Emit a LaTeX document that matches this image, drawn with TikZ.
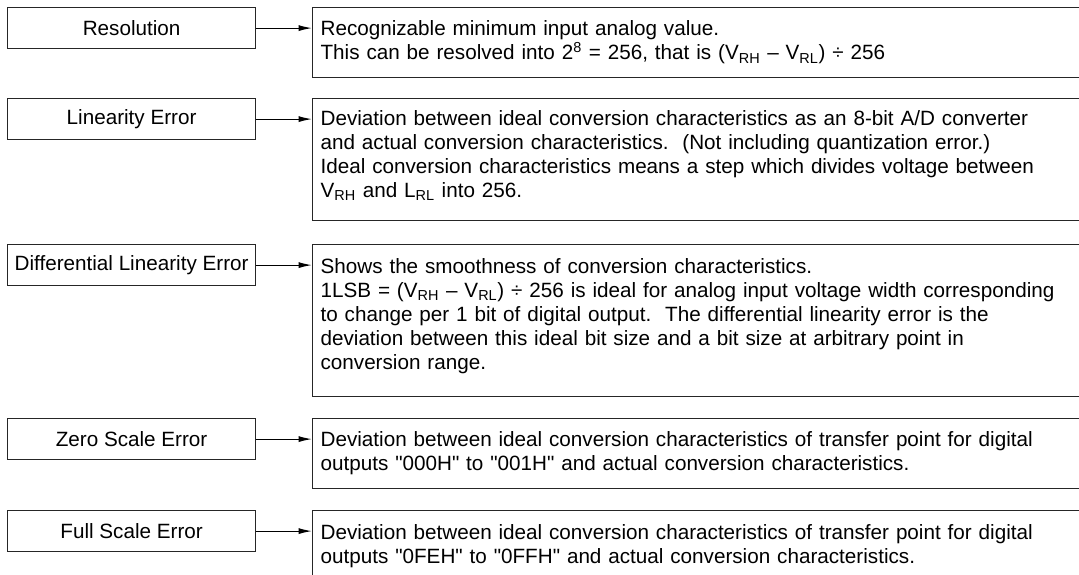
\documentclass[tikz,border=0pt]{standalone}
\usepackage{fontspec}
\setmainfont{Liberation Sans}
\usetikzlibrary{arrows.meta}

\begin{document}
\begin{tikzpicture}[x=0.75pt, y=-0.75pt, line width=0.9pt,
    term/.style={draw=black!85, anchor=north west, minimum width=186pt, minimum height=30.75pt,
        inner sep=0pt, font=\fontsize{15.5}{18}\selectfont},
    desc/.style={draw=black!85, anchor=north west, minimum width=600pt, text width=588pt,
        inner xsep=6pt, align=left, font=\fontsize{15.5}{18}\selectfont},
    link/.style={-{Latex[length=10pt,width=4.5pt]}}]
    \useasboundingbox (0,0) rectangle (1079,575);
    \clip (0,0) rectangle (1079,575);

    \node[term] (res) at (7,7) {Resolution};
    \node[term] (lin) at (7,98) {Linearity Error};
    \node[term] (dif) at (7,244) {Differential Linearity Error};
    \node[term] (zer) at (7,418) {Zero Scale Error};
    \node[term] (ful) at (7,510) {Full Scale Error};

    \node[desc, minimum height=52.5pt] (resd) at (312,7) {Recognizable minimum input analog value.\\
        This can be resolved into 2\textsuperscript{8} = 256, that is (V\textsubscript{RH} – V\textsubscript{RL}) ÷ 256};
    \node[desc, minimum height=91.5pt] (lind) at (312,98) {Deviation between ideal conversion characteristics as an 8-bit A/D converter\\
        and actual conversion characteristics.\ \ (Not including quantization error.)\\
        Ideal conversion characteristics means a step which divides voltage between\\
        V\textsubscript{RH} and L\textsubscript{RL} into 256.\rule[-9pt]{0pt}{1pt}};
    \node[desc, minimum height=114pt] (difd) at (312,244) {Shows the smoothness of conversion characteristics.\\
        1LSB = (V\textsubscript{RH} – V\textsubscript{RL}) ÷ 256 is ideal for analog input voltage width corresponding\\
        to change per 1 bit of digital output.\ \ The differential linearity error is the\\
        deviation between this ideal bit size and a bit size at arbitrary point in\\
        conversion range.\rule[-10pt]{0pt}{1pt}};
    \node[desc, minimum height=52.5pt] (zerd) at (312,418) {Deviation between ideal conversion characteristics of transfer point for digital\\
        outputs \textquotedbl 000H\textquotedbl{} to \textquotedbl 001H\textquotedbl{} and actual conversion characteristics.};
    \node[desc, minimum height=54pt] (fuld) at (312,510) {Deviation between ideal conversion characteristics of transfer point for digital\\
        outputs \textquotedbl 0FEH\textquotedbl{} to \textquotedbl 0FFH\textquotedbl{} and actual conversion characteristics.};

    \draw[link] (res.east) -- (res.east -| resd.west);
    \draw[link] (lin.east) -- (lin.east -| lind.west);
    \draw[link] (dif.east) -- (dif.east -| difd.west);
    \draw[link] (zer.east) -- (zer.east -| zerd.west);
    \draw[link] (ful.east) -- (ful.east -| fuld.west);
\end{tikzpicture}
\end{document}
